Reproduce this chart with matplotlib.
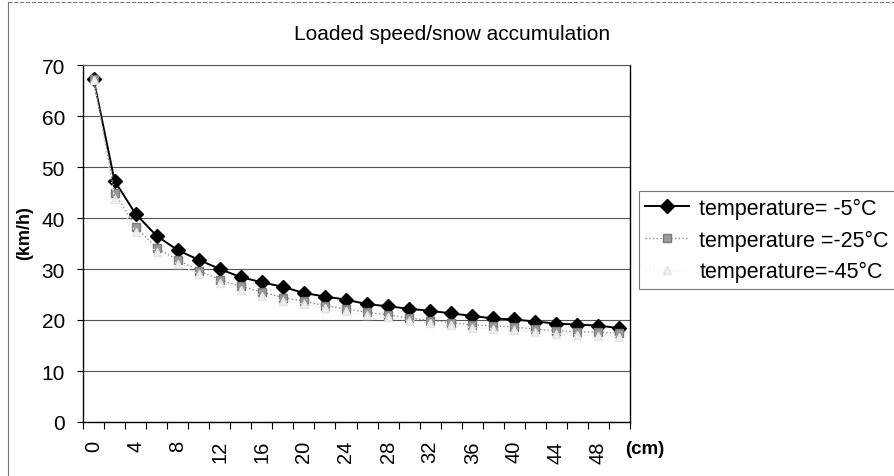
import matplotlib
matplotlib.use("Agg")
import matplotlib.pyplot as plt
import numpy as np

plt.rcParams['font.family'] = ['Liberation Sans', 'DejaVu Sans']

# snow depth (cm), one category every 2 cm
depth = [0, 2, 4, 6, 8, 10, 12, 14, 16, 18, 20, 22, 24, 26, 28, 30, 32, 34, 36, 38, 40, 42, 44, 46, 48, 50]

# loaded speed (km/h)
speed_m5 = [67.3, 47.3, 40.8, 36.5, 33.7, 31.8, 30.0, 28.4, 27.4, 26.5, 25.3, 24.6, 24.0,
            23.1, 22.7, 22.2, 21.8, 21.3, 20.8, 20.3, 20.1, 19.7, 19.3, 19.1, 18.9, 18.4]
speed_m25 = [67.3, 45.0, 38.2, 34.1, 31.8, 29.7, 27.9, 26.6, 25.5, 24.4, 23.7, 22.8, 22.2,
             21.5, 21.0, 20.4, 19.9, 19.5, 19.0, 18.9, 18.6, 18.2, 17.9, 17.7, 17.6, 17.4]
speed_m45 = [67.0, 43.8, 37.3, 33.3, 31.0, 29.0, 27.3, 25.9, 24.8, 23.8, 23.1, 22.3, 21.7,
             21.0, 20.5, 19.9, 19.4, 19.0, 18.5, 18.3, 18.0, 17.6, 17.3, 17.1, 16.9, 16.7]

labels = ["temperature= -5°C", "temperature =-25°C", "temperature=-45°C"]

W, H = 894, 477
fig = plt.figure(figsize=(W / 100, H / 100), dpi=100)

# plot area in pixels: left 83, right 630, top 66, bottom 423
ax = fig.add_axes([83 / W, 1 - 423 / H, (630 - 83) / W, (423 - 66) / H])

idx = np.arange(len(depth))
ax.plot(idx, speed_m5, color='black', lw=1.4, marker='D', ms=7,
        mfc='black', mec='black', label=labels[0], zorder=3)
ax.plot(idx, speed_m25, color='#8c8c8c', lw=1.0, ls=':', marker='s', ms=6,
        mfc='#9a9a9a', mec='#7a7a7a', label=labels[1], zorder=4)
ax.plot(idx, speed_m45, color='#ececec', lw=1.0, ls=':', marker='^', ms=6,
        mfc='#f0f0f0', mec='#e4e4e4', label=labels[2], zorder=5)

ax.set_xlim(-0.5, len(depth) - 0.5)
ax.set_ylim(0, 70)
ax.set_yticks(np.arange(0, 71, 10))
ax.yaxis.grid(True, color='#555555', lw=0.8)
ax.set_axisbelow(True)

ax.set_xticks(idx[::2])
ax.set_xticklabels([str(d) for d in depth[::2]], rotation=90)
ax.set_xticks(np.arange(-0.5, len(depth)), minor=True)
ax.tick_params(axis='x', which='major', length=0, pad=13, labelsize=14.5)
ax.tick_params(axis='x', which='minor', length=5, width=0.8, direction='out')
ax.tick_params(axis='y', length=4, width=0.8, pad=9, labelsize=15)

for side in ['left', 'bottom', 'right']:
    ax.spines[side].set_color('black')
    ax.spines[side].set_linewidth(1.0)
ax.spines['top'].set_color('#555555')
ax.spines['top'].set_linewidth(0.8)

fig.text(452 / W, 1 - 35 / H, "Loaded speed/snow accumulation", ha='center', va='center', fontsize=15)
fig.text(25 / W, 1 - 233 / H, "(km/h)", rotation=90, ha='center', va='center',
         fontsize=13, fontweight='bold')
fig.text(625 / W, 1 - 450 / H, "(cm)", ha='left', va='center', fontsize=13.5, fontweight='bold')

leg = fig.legend(loc='center left', bbox_to_anchor=(639 / W, 1 - 241 / H), fontsize=15.5,
                 frameon=True, fancybox=False, borderpad=0.3, borderaxespad=0,
                 handlelength=2.0, handletextpad=0.5, labelspacing=0.5)
leg.get_frame().set_edgecolor('#555555')
leg.get_frame().set_linewidth(0.8)

# outer chart border (only top and left show in the crop)
fig.add_artist(plt.Line2D([8 / W, 1], [1 - 3 / H, 1 - 3 / H], color='#777777', lw=0.8, ls='--'))
fig.add_artist(plt.Line2D([8 / W, 8 / W], [0, 1 - 3 / H], color='#777777', lw=0.8))

fig.savefig("out.png", dpi=100)
